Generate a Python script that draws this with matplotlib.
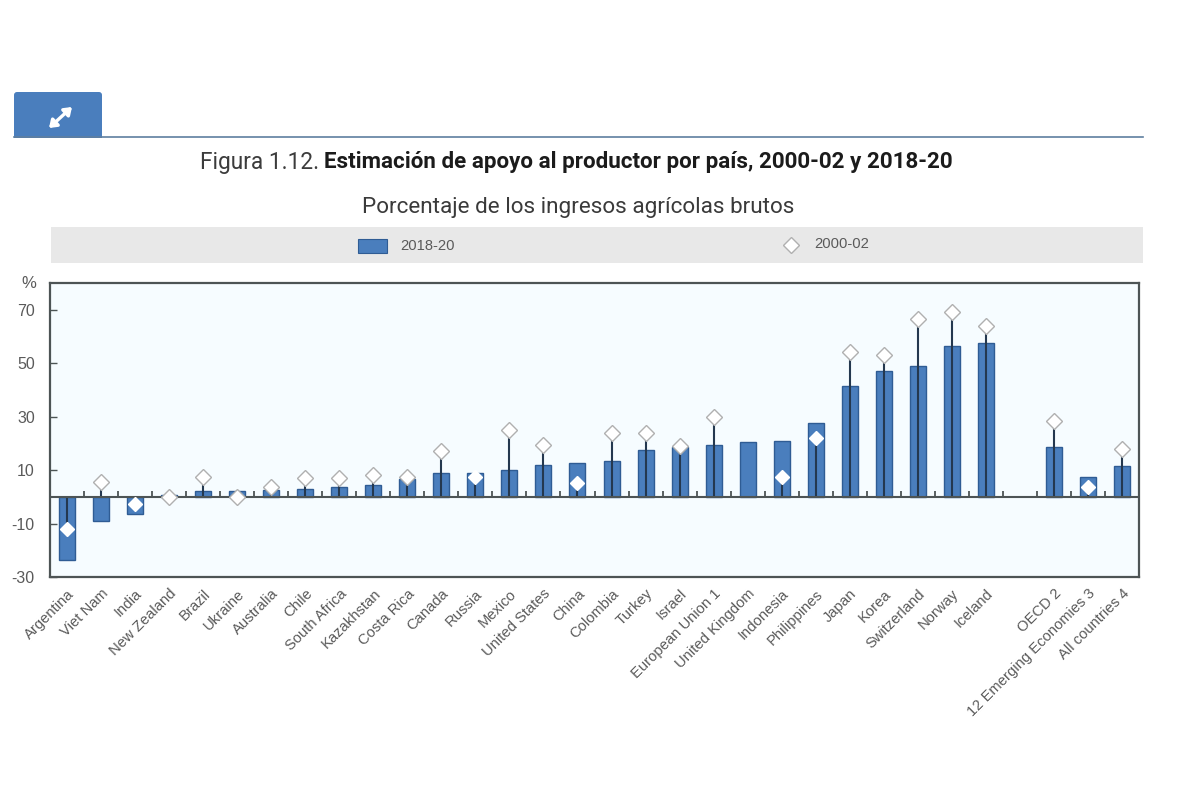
import numpy as np
import matplotlib
matplotlib.use("Agg")
import matplotlib.pyplot as plt
from matplotlib.patches import FancyBboxPatch, Rectangle

W, H = 1200, 802

countries = ["Argentina", "Viet Nam", "India", "New Zealand", "Brazil", "Ukraine", "Australia",
             "Chile", "South Africa", "Kazakhstan", "Costa Rica", "Canada", "Russia", "Mexico",
             "United States", "China", "Colombia", "Turkey", "Israel", "European Union 1",
             "United Kingdom", "Indonesia", "Philippines", "Japan", "Korea", "Switzerland",
             "Norway", "Iceland", "", "OECD 2", "12 Emerging Economies 3", "All countries 4"]
pse_2018_20 = [-23.5, -9, -6.5, 0.5, 2, 2, 2.5, 3, 3.8, 4.5, 6.5, 9, 9, 10, 12, 12.5, 13.5,
               17.5, 18.5, 19.5, 20.5, 21, 27.5, 41.5, 47, 49, 56.5, 57.5, np.nan, 18.5, 7.5, 11.5]
pse_2000_02 = [-12, 5.5, -2.5, 0, 7.5, 0, 3.5, 7, 7, 8, 7.5, 17, 7.5, 25, 19.5, 5, 24, 24, 19,
               30, np.nan, 7.5, 22, 54, 53, 66.5, 69, 64, np.nan, 28.5, 3.5, 18]
y_ticks = [70, 50, 30, 10, -10, -30]

BLUE = "#4a7ebd"
EDGE = "#2f5c94"
GREY = "#5a5a5a"
FRAME = "#4d5455"
OUTLINE = "#b0b0b0"

fig = plt.figure(figsize=(W / 100, H / 100), dpi=100, facecolor="white")


def fx(px):
    return px / W


def fy(py):
    return 1 - py / H


# Overlay spanning the whole figure, addressed in pixels from the top-left corner
page = fig.add_axes([0, 0, 1, 1], zorder=0)
page.set_xlim(0, W)
page.set_ylim(H, 0)
page.axis("off")

page.add_patch(FancyBboxPatch((14, 92), 88, 50, boxstyle="round,pad=0,rounding_size=3",
                              fc=BLUE, ec="none"))
page.add_patch(Rectangle((10, 137.5), 96, 8, fc="white", ec="none"))
page.plot([14, 1143], [137.2, 137.2], color="#5f7f9f", lw=1.2)
page.annotate("", xy=(72, 107), xytext=(49, 128),
              arrowprops=dict(arrowstyle="<|-|>,head_width=0.3,head_length=0.42", color="white", lw=2.4,
                              shrinkA=0, shrinkB=0))

page.add_patch(Rectangle((51, 227), 1092, 35.5, fc="#e8e8e8", ec="none"))
page.add_patch(Rectangle((358, 239), 29, 14, fc=BLUE, ec=EDGE, lw=0.8))
page.text(400, 245.5, "2018-20", family="Liberation Sans", fontsize=10.6, color=GREY,
          va="center", ha="left")
page.plot([791], [245], marker="D", ms=8, mfc="white", mec=OUTLINE, mew=1, ls="none")
page.text(814, 244, "2000-02", family="Liberation Sans", fontsize=10.6, color=GREY,
          va="center", ha="left")

title_y = 162
page.text(200, title_y, "Figura 1.12.", family="Roboto", fontsize=16.3, color="#3c3c3c",
          va="center", ha="left")
page.text(324.5, title_y, "Estimación de apoyo al productor por país, 2000-02 y 2018-20", family="Roboto",
          fontsize=16.15, fontweight="bold", color="#1b1b1b", va="center", ha="left")
page.text(578, 208, "Porcentaje de los ingresos agrícolas brutos", family="Roboto", fontsize=16.2,
          color="#3a3a3a", va="center", ha="center")
page.text(29, 283, "%", family="Liberation Sans", fontsize=12, color=GREY, va="center", ha="center")

# Main bar chart
ax = fig.add_axes([fx(50), fy(577), fx(1139 - 50), (577 - 283) / H], zorder=1)
ax.set_facecolor("#f6fcff")
x = np.arange(len(countries))
ax.bar(x, pse_2018_20, width=0.47, color=BLUE, edgecolor=EDGE, linewidth=1, zorder=2)

# Stem from the baseline to each 2000-02 marker
for xi, v in zip(x, pse_2000_02):
    if not np.isnan(v):
        ax.plot([xi, xi], [0, v], color="#24384f", lw=1.5, zorder=3, solid_capstyle="butt")

bar_top = np.array(pse_2018_20)
old = np.array(pse_2000_02)
inside = (np.abs(old) < np.abs(np.nan_to_num(bar_top))) & (np.sign(old) == np.sign(np.nan_to_num(bar_top)))
ax.plot(x[inside], old[inside], ls="none", marker="D", ms=7, mfc="white", mec="white", mew=1, zorder=4)
outside = ~inside & ~np.isnan(old)
ax.plot(x[outside], old[outside], ls="none", marker="D", ms=8, mfc="white", mec=OUTLINE, mew=1,
        zorder=4, clip_on=False)

ax.axhline(0, color=FRAME, lw=1.5, zorder=3)
ax.vlines(np.arange(-0.5, len(countries) - 0.5), 0, 2, color=FRAME, lw=1.3, zorder=1.5)

ax.set_xlim(-0.5, len(countries) - 0.5)
ax.set_ylim(-30, 80)
ax.set_yticks(y_ticks)
ax.set_yticklabels([str(v) for v in y_ticks], family="Liberation Sans", fontsize=11.5, color=GREY)
ax.tick_params(axis="y", direction="in", length=5, width=1, color=FRAME, pad=11)

label_x = [i for i, c in enumerate(countries) if c]
ax.set_xticks(label_x)
ax.set_xticklabels([countries[i] for i in label_x], rotation=45, ha="right", va="top",
                   rotation_mode="anchor", family="Liberation Sans", fontsize=10.6, color=GREY)
ax.tick_params(axis="x", length=0, pad=7)
for s in ax.spines.values():
    s.set_color(FRAME)
    s.set_linewidth(1.6)

fig.savefig("out.png", dpi=100, facecolor="white")
